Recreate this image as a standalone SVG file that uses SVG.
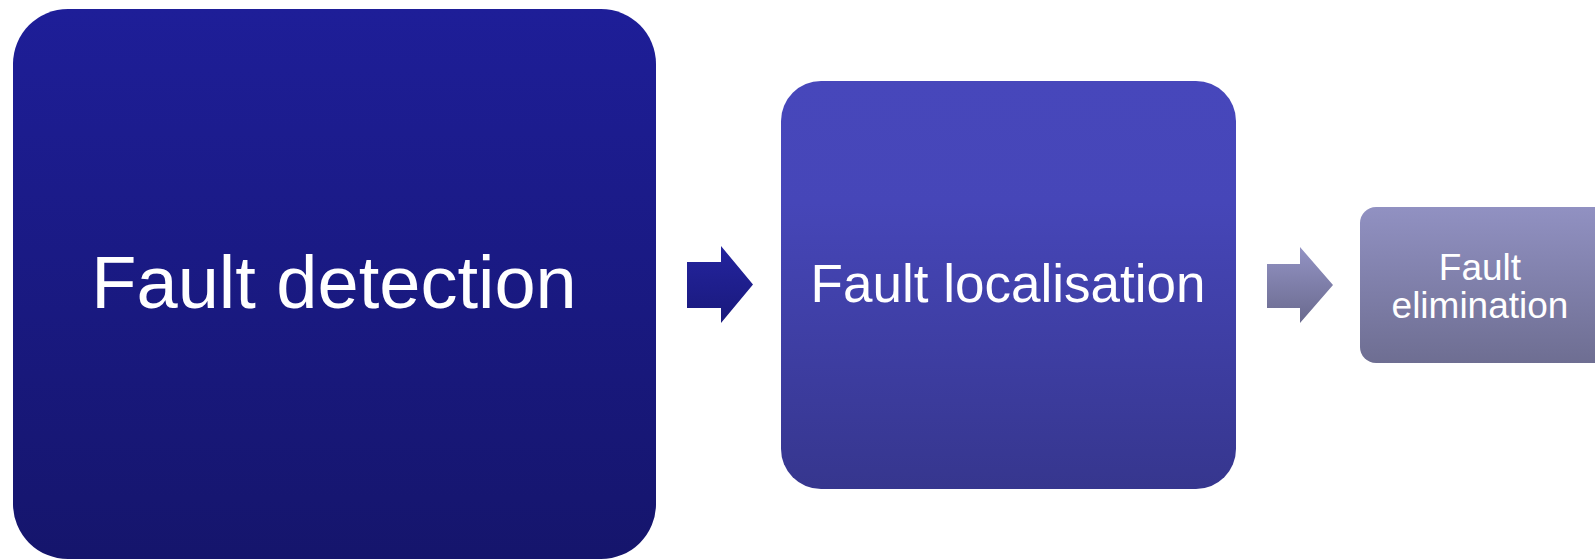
<svg xmlns="http://www.w3.org/2000/svg" width="1595" height="559" viewBox="0 0 1595 559">
<defs>
<linearGradient id="g1" x1="0" y1="0" x2="0" y2="1"><stop offset="0" stop-color="#1e1e98"/><stop offset="1" stop-color="#15156c"/></linearGradient>
<linearGradient id="g2" x1="0" y1="0" x2="0" y2="1"><stop offset="0" stop-color="#4747bb"/><stop offset="0.3" stop-color="#4646b8"/><stop offset="1" stop-color="#36368e"/></linearGradient>
<linearGradient id="g3" x1="0" y1="0" x2="0" y2="1"><stop offset="0" stop-color="#9191c2"/><stop offset="1" stop-color="#6e6e92"/></linearGradient>
<linearGradient id="a1" x1="0" y1="0" x2="0" y2="1"><stop offset="0" stop-color="#24249e"/><stop offset="1" stop-color="#19197c"/></linearGradient>
<linearGradient id="a2" x1="0" y1="0" x2="0" y2="1"><stop offset="0" stop-color="#9393c4"/><stop offset="1" stop-color="#6a6a8e"/></linearGradient>
<style>
text{font-family:"Liberation Sans",Arial,sans-serif;fill:#ffffff;text-anchor:middle}
</style>
</defs>
<rect width="1595" height="559" fill="#ffffff"/>
<g id="connectors">
<polygon points="687,262 721,262 721,246 753,284.5 721,323 721,308 687,308" fill="url(#a1)"/>
<polygon points="1267,264 1300,264 1300,247 1333,285 1300,323 1300,308 1267,308" fill="url(#a2)"/>
</g>
<g id="node-detection">
<rect x="13" y="9" width="643" height="550" rx="55" ry="55" fill="url(#g1)"/>
<text x="334" y="308" font-size="74">Fault detection</text>
</g>
<g id="node-localisation">
<rect x="781" y="81" width="455" height="408" rx="40" ry="40" fill="url(#g2)"/>
<text x="1008" y="302" font-size="53">Fault localisation</text>
</g>
<g id="node-elimination">
<rect x="1360" y="207" width="250" height="156" rx="16" ry="16" fill="url(#g3)"/>
<text x="1480" y="280" font-size="37">Fault</text>
<text x="1480" y="318" font-size="37">elimination</text>
</g>
</svg>
